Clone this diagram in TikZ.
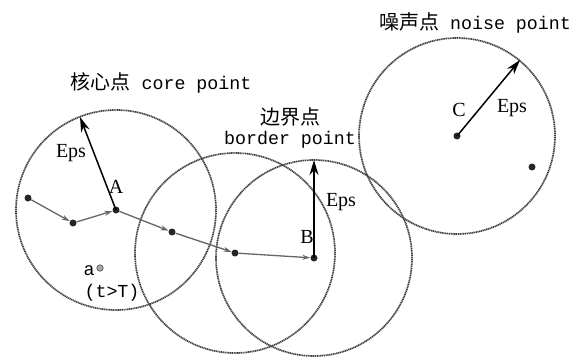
\documentclass[tikz,border=0pt]{standalone}
\usepackage{fontspec}
\setmainfont{Liberation Serif}
\newfontfamily\cjkf{Noto Sans CJK SC}
\newfontfamily\monof{Liberation Mono}
\usetikzlibrary{arrows.meta}
\newcommand\cjktxt[1]{{\fontsize{20}{22}\selectfont\cjkf #1}}
\newcommand\montxt[1]{{\fontsize{18.3}{22}\selectfont\monof #1}}
\begin{document}
\begin{tikzpicture}[x=1pt,y=-1pt,
  dot/.style={circle,fill=black!85,inner sep=0pt,minimum size=7pt},
  graydot/.style={circle,fill=gray!70,draw=black!70,line width=0.6pt,inner sep=0pt,minimum size=6.5pt},
  ring/.style={draw=black!75,line width=1.7pt,dash pattern=on 1.2pt off 0.6pt},
  link/.style={draw=black!60,line width=1.3pt,-{Stealth[length=8pt,width=5pt]}},
  eps/.style={draw=black,line width=1.5pt,-{Stealth[length=15pt,width=9pt]}},
  serif/.style={font=\fontsize{20}{22}\selectfont,inner sep=0pt},
  txt/.style={inner sep=0pt,align=center}]
\fill[white] (0,0) rectangle (588,356);
\useasboundingbox (0,0) rectangle (588,356);
% points
\node[dot] (p1) at (28,198) {};
\node[dot] (p2) at (73,223) {};
\node[dot] (A) at (116,210) {};
\node[dot] (p3) at (172,232) {};
\node[dot] (p4) at (235,253) {};
\node[dot] (B) at (314,258) {};
\node[dot] (C) at (457,136) {};
\node[dot] (p5) at (532,167) {};
\node[graydot] (a) at (100,268) {};
% circles
\draw[ring] (A.center) circle[radius=100pt];
\draw[ring] (p4.center) circle[radius=100pt];
\draw[ring] (B.center) circle[radius=98pt];
\draw[ring] (C.center) circle[radius=98pt];
% chain
\draw[link] (p1) -- (p2);
\draw[link] (p2) -- (A);
\draw[link] (A) -- (p3);
\draw[link] (p3) -- (p4);
\draw[link] (p4) -- (B);
% eps arrows
\coordinate (eA) at (80,117);
\coordinate (eB) at (314,160);
\coordinate (eC) at (520,60);
\draw[eps] (A.center) -- (eA);
\draw[eps] (B.center) -- (eB);
\draw[eps] (C.center) -- (eC);
% labels
\node[serif] (lA) at (116,187) {A};
\node[serif] (lB) at (307,237) {B};
\node[serif] (lC) at (459,110) {C};
\node[serif] (epsA) at (71,153) {Eps};
\node[serif] (epsB) at (341,202) {Eps};
\node[serif] (epsC) at (512,108) {Eps};
\node[txt] (la) at (89,271) {\montxt{a}};
\node[txt] (lt) at (112,293) {\montxt{(t>T)}};
\node[txt] (core) at (161,83) {\cjktxt{核心点}\montxt{ core point}};
\node[txt] (bord1) at (290,117) {\cjktxt{边界点}};
\node[txt] (bord2) at (290,140) {\montxt{border point}};
\node[txt] (noise) at (475,23) {\cjktxt{噪声点}\montxt{ noise point}};
\end{tikzpicture}
\end{document}
